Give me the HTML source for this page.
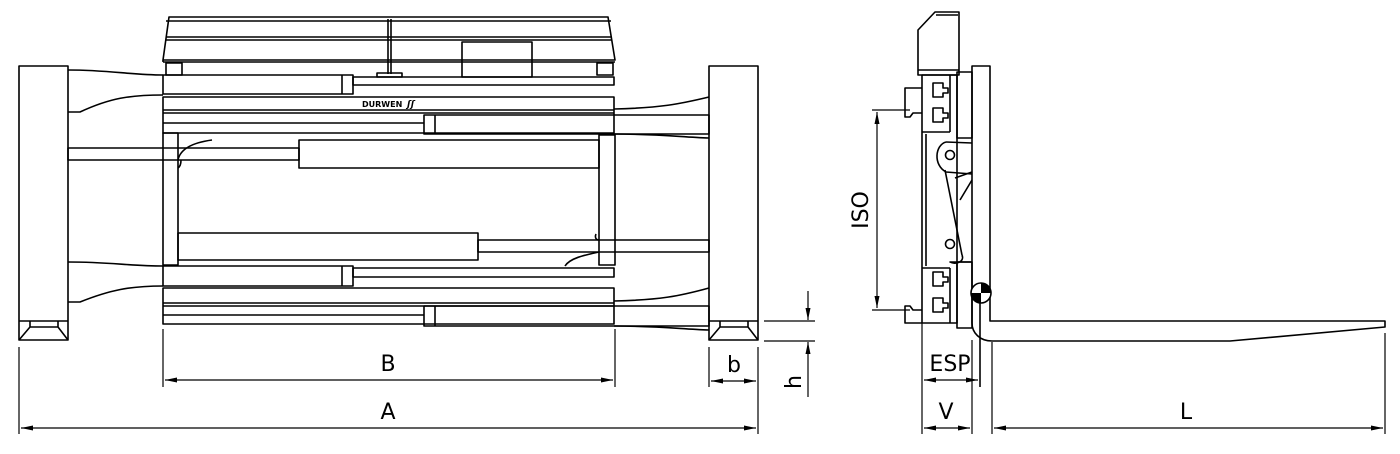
<!DOCTYPE html>
<html><head><meta charset="utf-8"><style>
html,body{margin:0;padding:0;background:#fff;}
svg{display:block}
text{font-family:"DejaVu Sans","Liberation Sans",sans-serif;fill:#000;}
</style></head><body>
<svg width="1400" height="454" viewBox="0 0 1400 454" xmlns="http://www.w3.org/2000/svg">
<defs>
<marker id="ar" viewBox="0 0 12 6" refX="12" refY="3" markerWidth="12" markerHeight="6" orient="auto-start-reverse" markerUnits="userSpaceOnUse"><path d="M0,0.5 L12,3 L0,5.5 z" fill="#000"/></marker>
</defs>
<g fill="none" stroke="#000" stroke-width="1.6" stroke-linejoin="round">
<!-- top carriage housing -->
<path d="M169,17 L608,17 L615,60 L163,60 Z"/>
<line x1="166" y1="21" x2="611" y2="21"/>
<line x1="166" y1="37" x2="612" y2="37"/>
<line x1="166" y1="40" x2="612" y2="40"/>
<line x1="163" y1="62" x2="615" y2="62"/>
<line x1="163" y1="60" x2="163" y2="62"/>
<line x1="388" y1="19" x2="388" y2="74"/>
<line x1="391" y1="19" x2="391" y2="74"/>
<rect x="462" y="42" width="70" height="35"/>
<rect x="166" y="63" width="16" height="12"/>
<rect x="597" y="63" width="16" height="12"/>
<rect x="377" y="73" width="25" height="4"/>
<!-- left arm block -->
<rect x="19" y="66" width="49" height="274"/>
<line x1="19" y1="321" x2="68" y2="321"/>
<path d="M30,321 L30,327 L58,327 L58,321 M30,327 L19,340 M58,327 L68,340"/>
<!-- right arm block -->
<rect x="709" y="66" width="49" height="274"/>
<line x1="709" y1="321" x2="758" y2="321"/>
<path d="M720,321 L720,327 L748,327 L748,321 M720,327 L709,340 M748,327 L758,340"/>
<!-- upper left arm tube -->
<path d="M68,70 C110,70 130,75 163,75"/>
<path d="M68,112 L80,112 C110,98 130,95 163,95"/>
<!-- upper cylinder from left -->
<rect x="163" y="75" width="190" height="19"/>
<line x1="342" y1="75" x2="342" y2="94"/>
<rect x="353" y="77" width="261" height="8"/>
<!-- upper frame -->
<rect x="163" y="97" width="451" height="36"/>
<line x1="163" y1="110" x2="614" y2="110"/>
<line x1="163" y1="113" x2="614" y2="113"/>
<line x1="163" y1="123" x2="424" y2="123"/>
<!-- upper right cylinder -->
<rect x="424" y="115" width="285" height="19"/>
<line x1="435" y1="115" x2="435" y2="134"/>
<!-- right arm upper tube -->
<path d="M614,109 C660,108 680,104 709,97"/>
<path d="M614,134 C660,134 680,137 709,138"/>
<!-- posts -->
<rect x="163" y="133" width="15" height="132"/>
<rect x="599" y="135" width="16" height="130"/>
<path d="M178,160 C180,150 190,143 212,140"/>
<path d="M178,168 C181,166 181,162 181,160"/>
<!-- center rod & cylinder upper -->
<rect x="68" y="148" width="231" height="12"/>
<rect x="299" y="140" width="300" height="28"/>
<!-- lower cylinder -->
<rect x="178" y="233" width="300" height="27"/>
<rect x="478" y="240" width="231" height="12"/>
<path d="M565,266 C570,258 585,255 599,252"/>
<path d="M599,240 C595,240 595,236 596,234"/>
<!-- lower left arm -->
<path d="M68,262 C110,262 130,266 163,266"/>
<path d="M68,302 L80,302 C110,290 130,286 163,286"/>
<rect x="163" y="266" width="190" height="20"/>
<line x1="342" y1="266" x2="342" y2="286"/>
<rect x="353" y="268" width="261" height="9"/>
<rect x="163" y="288" width="451" height="36"/>
<line x1="163" y1="303" x2="614" y2="303"/>
<line x1="163" y1="306" x2="614" y2="306"/>
<line x1="163" y1="315" x2="424" y2="315"/>
<rect x="424" y="306" width="285" height="20"/>
<line x1="435" y1="306" x2="435" y2="326"/>
<path d="M614,301 C660,300 680,296 709,288"/>
<path d="M614,326 C660,326 680,329 709,330"/>
</g>
<text x="362" y="107" font-size="8" font-family="Liberation Serif,serif" font-weight="bold">DURWEN</text>
<text x="407" y="107" font-size="9" font-style="italic" font-weight="bold">ʃʃ</text>

<!-- left dimensions -->
<g stroke="#000" stroke-width="1.2" fill="none">
<line x1="163" y1="329" x2="163" y2="387"/>
<line x1="615" y1="329" x2="615" y2="387"/>
<line x1="165" y1="380" x2="613" y2="380" marker-start="url(#ar)" marker-end="url(#ar)"/>
<line x1="19" y1="347" x2="19" y2="434"/>
<line x1="758" y1="347" x2="758" y2="434"/>
<line x1="21" y1="428" x2="756" y2="428" marker-start="url(#ar)" marker-end="url(#ar)"/>
<line x1="709" y1="347" x2="709" y2="387"/>
<line x1="711" y1="381" x2="756" y2="381" marker-start="url(#ar)" marker-end="url(#ar)"/>
<line x1="764" y1="321" x2="815" y2="321"/>
<line x1="764" y1="341" x2="815" y2="341"/>
<line x1="808" y1="291" x2="808" y2="320" marker-end="url(#ar)"/>
<line x1="808" y1="397" x2="808" y2="342" marker-end="url(#ar)"/>
</g>
<text x="388" y="371" font-size="22" text-anchor="middle">B</text>
<text x="388" y="419" font-size="22" text-anchor="middle">A</text>
<text x="734" y="372" font-size="22" text-anchor="middle">b</text>
<text x="0" y="0" font-size="22" text-anchor="middle" transform="translate(801,382) rotate(-90)">h</text>

<!-- right side view -->
<g fill="none" stroke="#000" stroke-width="1.6" stroke-linejoin="round">
<path d="M935,12 L959,12 L959,75 L918,75 L918,30 Z"/>
<line x1="936" y1="15" x2="958" y2="15"/>
<line x1="918" y1="70" x2="959" y2="70"/>
<!-- carriage plate -->
<rect x="922" y="75" width="35" height="248"/>
<line x1="922" y1="132" x2="950" y2="132"/>
<line x1="922" y1="268" x2="950" y2="268"/>
<line x1="926" y1="134" x2="926" y2="266"/>
<line x1="950" y1="75" x2="950" y2="132"/>
<line x1="950" y1="268" x2="950" y2="323"/>
<!-- rails -->
<path d="M933,83 h10 v5 h5 v5 h-5 v4 h-10 z"/>
<path d="M933,108 h10 v5 h5 v5 h-5 v4 h-10 z"/>
<path d="M933,272 h10 v5 h5 v5 h-5 v4 h-10 z"/>
<path d="M933,298 h10 v5 h5 v5 h-5 v4 h-10 z"/>
<!-- pads -->
<path d="M957,72 h15 v66 h-15 z"/>
<path d="M957,262 h15 v66 h-15 z"/>
<!-- lugs -->
<path d="M922,88 h-17 v29 h5 l3,-4 h9"/>
<path d="M922,323 h-17 v-17 h5 l3,4 h9"/>
<!-- linkage -->
<path d="M946,142 C935,145 933,165 946,172 L972,174"/>
<path d="M945,170 L962,255"/>
<path d="M955,178 L972,172 M960,200 L972,180"/>
<path d="M962,255 C965,262 955,265 950,262 L972,262"/>
<line x1="946" y1="142" x2="972" y2="143"/>
<circle cx="950" cy="155" r="4.5"/>
<circle cx="950" cy="244" r="4.5"/>
<!-- fork -->
<path d="M972,66 L990,66 L990,321 L1385,321 L1385,327 L1230,341 L992,341 C980,341 972,333 972,323 Z"/>
<line x1="980" y1="300" x2="980" y2="387"/>
</g>
<circle cx="981" cy="293" r="10" fill="#fff" stroke="#000" stroke-width="1.6"/>
<path d="M981,283 A10,10 0 0 1 991,293 L981,293 Z" fill="#000"/>
<path d="M981,303 A10,10 0 0 1 971,293 L981,293 Z" fill="#000"/>
<!-- right dims -->
<g stroke="#000" stroke-width="1.2" fill="none">
<line x1="872" y1="110" x2="910" y2="110"/>
<line x1="872" y1="310" x2="910" y2="310"/>
<line x1="877" y1="112" x2="877" y2="308" marker-start="url(#ar)" marker-end="url(#ar)"/>
<line x1="922" y1="323" x2="922" y2="434"/>
<line x1="972" y1="340" x2="972" y2="434"/>
<line x1="992" y1="342" x2="992" y2="434"/>
<line x1="1385" y1="333" x2="1385" y2="434"/>
<line x1="924" y1="380" x2="978" y2="380" marker-start="url(#ar)" marker-end="url(#ar)"/>
<line x1="924" y1="428" x2="970" y2="428" marker-start="url(#ar)" marker-end="url(#ar)"/>
<line x1="994" y1="428" x2="1383" y2="428" marker-start="url(#ar)" marker-end="url(#ar)"/>
</g>
<text x="0" y="0" font-size="22" text-anchor="middle" transform="translate(868,210) rotate(-90)">ISO</text>
<text x="950" y="371" font-size="22" text-anchor="middle">ESP</text>
<text x="946" y="419" font-size="22" text-anchor="middle">V</text>
<text x="1186" y="419" font-size="22" text-anchor="middle">L</text>
</svg>
</body></html>
